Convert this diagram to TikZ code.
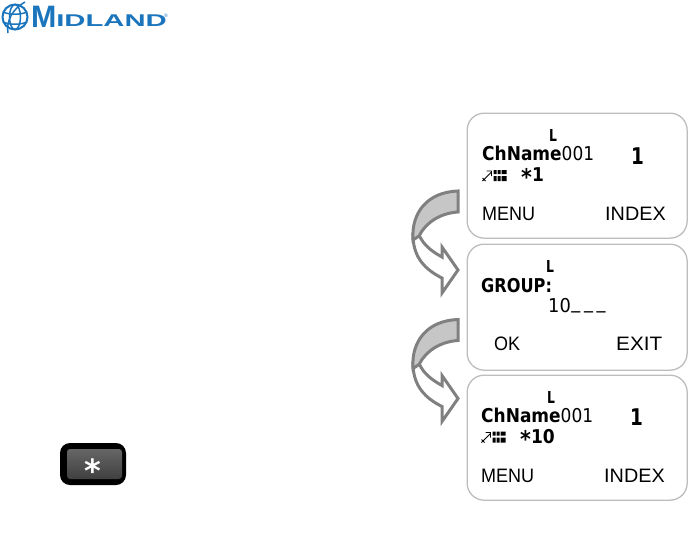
\documentclass[tikz,border=0pt]{standalone}
\usepackage{fontspec}
\setmainfont{Liberation Sans}
\newfontfamily\lcdfont{DejaVu Sans}
\definecolor{logoblue}{HTML}{1B75BC}
\definecolor{framegray}{HTML}{BDBDBD}
\definecolor{arrowgray}{HTML}{808080}
\definecolor{bandgray}{HTML}{C6C6C6}
\newcommand{\lcdstar}{\raisebox{-4.5pt}{\fontsize{23}{23}\selectfont *}}
\tikzset{
  screenbox/.style={draw=framegray,line width=1.3,rounded corners=17,fill=white},
  lcdbold/.style={anchor=base west,inner sep=0,font=\lcdfont\fontsize{17}{17}\selectfont,yscale=1.12,text=black},
  lcdsmall/.style={anchor=base west,inner sep=0,font=\lcdfont\bfseries\fontsize{16.5}{16.5}\selectfont,xscale=.75,text=black},
  lcdbig/.style={anchor=base west,inner sep=0,font=\lcdfont\bfseries\fontsize{23}{23}\selectfont,xscale=.8,text=black},
  lcdstatus/.style={anchor=base west,inner sep=0,font=\lcdfont\bfseries\fontsize{19}{19}\selectfont,xscale=.9,text=black},
  lcdthin/.style={anchor=base west,inner sep=0,font=\fontsize{18}{18}\selectfont,yscale=1.08,text=black},
  turnarrow/.pic={
    \draw[arrowgray,line width=3,fill=white,line join=miter]
      (419,235) .. controls (424,246) and (433,252) .. (442,257) -- (442,247) -- (458,270)
      -- (442,293) -- (442,278) .. controls (426,270) and (413,258) .. (413,235) -- cycle;
    \draw[arrowgray,line width=3,fill=bandgray]
      (458,191) -- (458,212) .. controls (441,213) and (426,222) .. (419,236)
      -- (413,240) .. controls (411,212) and (428,192) .. (458,191) -- cycle;
  },
  gridicon/.pic={
    \draw[black,line width=.8] (0,11) -- (9,2) (0,8) -- (3,11) (4,1) -- (9,1) -- (9,6);
    \fill[black] (11,0) rectangle (14,4) (15,0) rectangle (18,4) (19,0) rectangle (24,4)
      (11,6) rectangle (14,11) (15,6) rectangle (18,11) (19,6) rectangle (24,11);
  }
}
\begin{document}
\begin{tikzpicture}[x=1pt,y=-1pt]
  \useasboundingbox (0,0) rectangle (688,539);
  % logo
  \begin{scope}[logoblue,line width=1.5]
    \draw[line width=2] (15,17) circle (12.5);
    \draw (15,17) ellipse (5.5 and 12.5);
    \draw (3,12) .. controls (10,15) and (20,15) .. (27,12);
    \draw (3,22) .. controls (10,25) and (20,25) .. (27,22);
    \draw (25,2) .. controls (12,9) and (6,22) .. (8,33);
  \end{scope}
  \node[anchor=base west,inner sep=0,font=\bfseries\fontsize{31}{31}\selectfont,xscale=.98,text=logoblue] (logoM) at (31,27) {M};
  \node[anchor=base west,inner sep=0,font=\bfseries\fontsize{17}{17}\selectfont,xscale=1.72,text=logoblue] (logoName) at (56,26) {IDLAND};
  \node[anchor=base west,inner sep=0,font=\fontsize{5}{5}\selectfont,text=logoblue] (logoReg) at (164,17) {®};

  % screens
  \node[screenbox,minimum width=220,minimum height=125,anchor=north west] (screenA) at (466.5,112.5) {};
  \node[screenbox,minimum width=220,minimum height=126,anchor=north west] (screenB) at (466.5,243.5) {};
  \node[screenbox,minimum width=220,minimum height=125,anchor=north west] (screenC) at (466.5,374.5) {};

  \pic at (0,0) {turnarrow};
  \pic at (0,128.5) {turnarrow};

  \node[lcdsmall] (lockA) at (549,141) {L};
  \node[lcdbold] (nameA) at (482,160) {{\bfseries ChName}001};
  \node[lcdbig] (numA) at (631,164) {1};
  \pic at (482.5,170) {gridicon};
  \node[lcdstatus] (groupA) at (521,181) {\lcdstar1};
  \node[lcdthin] (menuA) at (482,220) {MENU};
  \node[lcdthin,xscale=1.1] (indexA) at (605,220) {INDEX};

  \node[lcdsmall] (lockB) at (546,272) {L};
  \node[lcdbold,font=\lcdfont\bfseries\fontsize{17}{17}\selectfont,xscale=.95] (groupB) at (481,292) {GROUP:};
  \node[lcdbold,xscale=1.05] (entryB) at (548,312) {10\raisebox{3pt}{\hspace{.5pt}\_\hspace{3.5pt}\_\hspace{3.5pt}\_}};
  \node[lcdthin] (okB) at (494,350) {OK};
  \node[lcdthin,xscale=1.15] (exitB) at (616,350) {EXIT};

  \node[lcdsmall] (lockC) at (547,403) {L};
  \node[lcdbold] (nameC) at (481,422) {{\bfseries ChName}001};
  \node[lcdbig] (numC) at (630,425) {1};
  \pic at (481.5,431.5) {gridicon};
  \node[lcdstatus] (groupC) at (520,443) {\lcdstar10};
  \node[lcdthin] (menuC) at (481,482) {MENU};
  \node[lcdthin,xscale=1.1] (indexC) at (604,482) {INDEX};

  % key
  \fill[black,rounded corners=10] (60,443) rectangle (126,485);
  \shade[top color=black!60,bottom color=black!75,rounded corners=3] (67,449) rectangle (122,479);
  \node[anchor=center,inner sep=0,font=\lcdfont\bfseries\fontsize{32}{32}\selectfont,text=white] (starKey) at (93,471) {*};
\end{tikzpicture}
\end{document}
